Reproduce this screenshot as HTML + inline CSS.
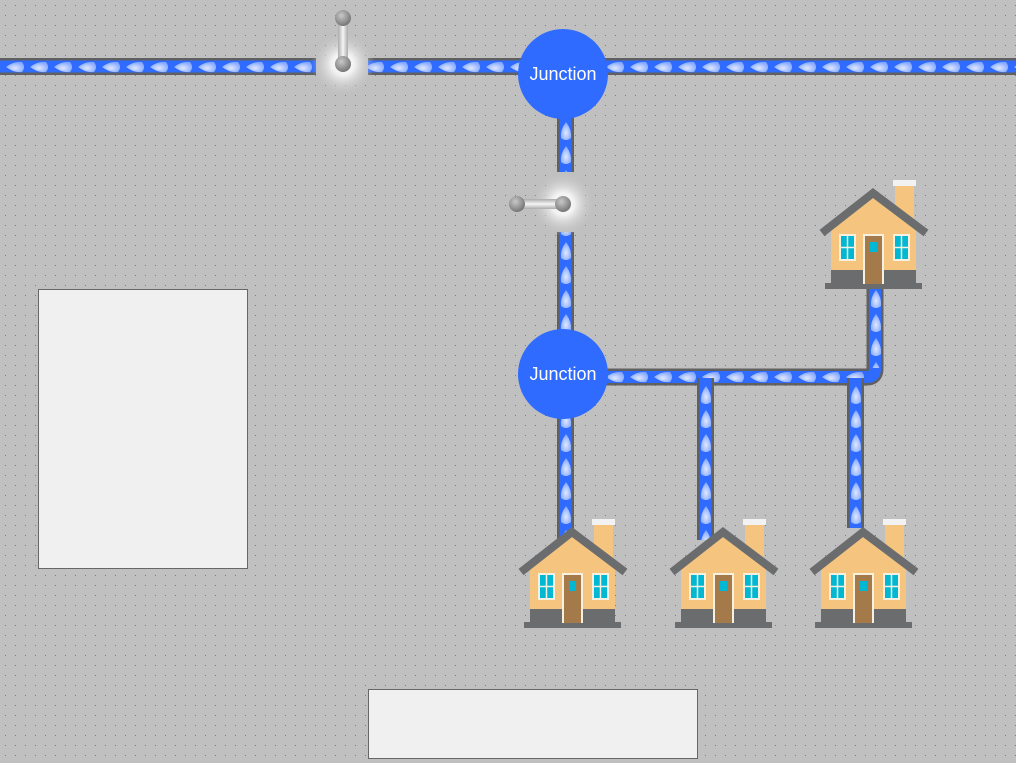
<!DOCTYPE html>
<html><head><meta charset="utf-8"><style>
html,body{margin:0;padding:0;background:#c0c0c0}
svg{display:block}
</style></head><body>
<svg width="1016" height="763" viewBox="0 0 1016 763" xmlns="http://www.w3.org/2000/svg">
<defs>
<pattern id="dots" width="10" height="10" patternUnits="userSpaceOnUse"><rect x="5" y="5" width="1" height="1" fill="#7a7a7a"/></pattern>
<radialGradient id="dropg" cx="0.5" cy="0.6" r="0.6"><stop offset="0" stop-color="#dfe8ff"/><stop offset="1" stop-color="#7fa4ff"/></radialGradient>
<pattern id="dh" width="24" height="16" patternUnits="userSpaceOnUse" x="4" y="59"><path d="M2 8 Q10 2 18 3 Q22 8 18 13 Q10 14 2 8Z" fill="url(#dropg)"/></pattern>
<pattern id="dv" width="16" height="24" patternUnits="userSpaceOnUse" x="558" y="0"><path d="M8 2 Q14 10 13 18 Q8 22 3 18 Q2 10 8 2Z" fill="url(#dropg)"/></pattern>
<pattern id="dh2" width="24" height="16" patternUnits="userSpaceOnUse" x="4" y="369"><path d="M2 8 Q10 2 18 3 Q22 8 18 13 Q10 14 2 8Z" fill="url(#dropg)"/></pattern>
<pattern id="dv2" width="16" height="24" patternUnits="userSpaceOnUse" x="698" y="0"><path d="M8 2 Q14 10 13 18 Q8 22 3 18 Q2 10 8 2Z" fill="url(#dropg)"/></pattern>
<pattern id="dv3" width="16" height="24" patternUnits="userSpaceOnUse" x="848" y="0"><path d="M8 2 Q14 10 13 18 Q8 22 3 18 Q2 10 8 2Z" fill="url(#dropg)"/></pattern>
<pattern id="dv4" width="16" height="24" patternUnits="userSpaceOnUse" x="868" y="0"><path d="M8 2 Q14 10 13 18 Q8 22 3 18 Q2 10 8 2Z" fill="url(#dropg)"/></pattern>
<radialGradient id="glow"><stop offset="0" stop-color="#fff"/><stop offset="0.35" stop-color="#f2f2f2"/><stop offset="1" stop-color="#c0c0c0" stop-opacity="0"/></radialGradient>
<radialGradient id="ball" cx="0.4" cy="0.35" r="0.7"><stop offset="0" stop-color="#c8c8c8"/><stop offset="1" stop-color="#707070"/></radialGradient>
<linearGradient id="barv" x1="0" x2="1"><stop offset="0" stop-color="#aaa"/><stop offset="0.5" stop-color="#f5f5f5"/><stop offset="1" stop-color="#aaa"/></linearGradient>
<linearGradient id="barh" x1="0" x2="0" y1="0" y2="1"><stop offset="0" stop-color="#aaa"/><stop offset="0.5" stop-color="#f5f5f5"/><stop offset="1" stop-color="#aaa"/></linearGradient>
<g id="house">
<rect x="77" y="7" width="19" height="45" fill="#f5c47f"/>
<rect x="75" y="1" width="23" height="6" fill="#f2f2f2"/>
<polygon points="13,46 55,14 98,46 98,92 13,92" fill="#f5c47f"/>
<polyline points="4,54 55,14 108,54" fill="none" stroke="#6b6c6e" stroke-width="8"/>
<rect x="13" y="91" width="85" height="14" fill="#6b6c6e"/>
<rect x="7" y="104" width="97" height="6" fill="#6b6c6e"/>
<rect x="45" y="55" width="21" height="50" fill="#f5f0e0"/>
<rect x="47" y="57" width="17" height="48" fill="#a57a4b"/>
<rect x="52" y="63" width="7" height="10" fill="#00b8d4"/>
<rect x="21" y="55" width="17" height="27" fill="#f5f0e0"/>
<rect x="23" y="57" width="13" height="23" fill="#00b8d4"/>
<path d="M29.5 57V80M23 68.5H36" stroke="#f5f0e0" stroke-width="1.5"/>
<rect x="75" y="55" width="17" height="27" fill="#f5f0e0"/>
<rect x="77" y="57" width="13" height="23" fill="#00b8d4"/>
<path d="M83.5 57V80M77 68.5H90" stroke="#f5f0e0" stroke-width="1.5"/>
</g>
</defs>
<rect width="1016" height="763" fill="url(#dots)"/>

<rect x="0" y="58" width="1016" height="17" fill="#606060"/>
<rect x="0" y="60.5" width="1016" height="12" fill="#2f6bff"/>
<rect x="0" y="59" width="1016" height="16" fill="url(#dh)"/>
<rect x="557" y="100" width="17" height="460" fill="#606060"/>
<rect x="559.5" y="100" width="12" height="460" fill="#2f6bff"/>
<rect x="558" y="100" width="16" height="460" fill="url(#dv)"/>
<path d="M600 377 H867 Q875 377 875 369 V288" fill="none" stroke="#606060" stroke-width="17"/>
<path d="M600 377 H867 Q875 377 875 369 V288" fill="none" stroke="#2f6bff" stroke-width="12"/>
<rect x="600" y="369" width="268" height="16" fill="url(#dh2)"/>
<rect x="868" y="290" width="16" height="78" fill="url(#dv4)"/>
<rect x="697" y="378" width="17" height="162" fill="#606060"/>
<rect x="699.5" y="378" width="12" height="162" fill="#2f6bff"/>
<rect x="698" y="385" width="16" height="155" fill="url(#dv2)"/>
<rect x="847" y="378" width="17" height="150" fill="#606060"/>
<rect x="849.5" y="378" width="12" height="150" fill="#2f6bff"/>
<rect x="848" y="385" width="16" height="143" fill="url(#dv3)"/>

<rect x="316" y="56" width="52" height="22" fill="#c0c0c0"/>
<circle cx="343" cy="64" r="32" fill="url(#glow)"/>
<rect x="338" y="18" width="10" height="46" fill="url(#barv)"/>
<circle cx="343" cy="18" r="8" fill="url(#ball)"/>
<circle cx="343" cy="64" r="8" fill="url(#ball)"/>
<rect x="555" y="172" width="22" height="60" fill="#c0c0c0"/>
<circle cx="563" cy="204" r="32" fill="url(#glow)"/>
<rect x="517" y="199" width="46" height="10" fill="url(#barh)"/>
<circle cx="517" cy="204" r="8" fill="url(#ball)"/>
<circle cx="563" cy="204" r="8" fill="url(#ball)"/>

<circle cx="563" cy="74" r="45" fill="#2f6bff"/>
<text x="563" y="80" text-anchor="middle" font-family="Liberation Sans, sans-serif" font-size="18" fill="#fff">Junction</text>
<circle cx="563" cy="374" r="45" fill="#2f6bff"/>
<text x="563" y="380" text-anchor="middle" font-family="Liberation Sans, sans-serif" font-size="18" fill="#fff">Junction</text>

<use href="#house" x="818" y="179"/>
<use href="#house" x="517" y="518"/>
<use href="#house" x="668" y="518"/>
<use href="#house" x="808" y="518"/>

<rect x="38.5" y="289.5" width="209" height="279" fill="#f0f0f0" stroke="#666"/>
<rect x="368.5" y="689.5" width="329" height="69" fill="#f0f0f0" stroke="#666"/>
</svg>
</body></html>
